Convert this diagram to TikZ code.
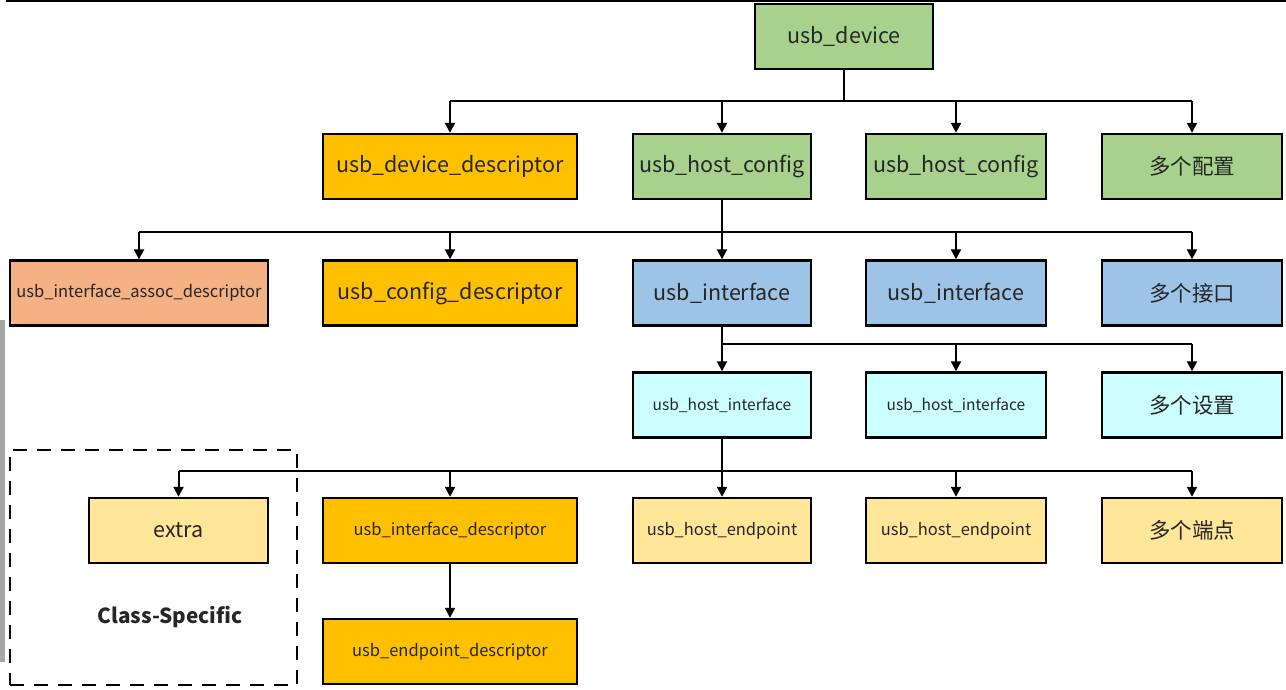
\documentclass[tikz,border=0pt]{standalone}
\usepackage{fontspec}
\setmainfont{Noto Sans CJK SC}
\usetikzlibrary{arrows.meta, positioning}
\definecolor{cfggreen}{HTML}{A9D18E}
\definecolor{descgold}{HTML}{FFC000}
\definecolor{assocsalmon}{HTML}{F4B183}
\definecolor{ifblue}{HTML}{9DC3E6}
\definecolor{altcyan}{HTML}{CCFFFF}
\definecolor{epyellow}{HTML}{FFE699}

\begin{document}
\begin{tikzpicture}[
  x=1pt, y=-1pt,
  font=\fontsize{21.5}{25}\selectfont,
  blk/.style={draw, line width=2.4pt, minimum height=65pt, inner sep=2pt, text=black!85},
  sm/.style={font=\fontsize{16.5}{19}\selectfont},
  xs/.style={font=\fontsize{15.5}{18}\selectfont},
  ln/.style={line width=2pt},
  ar/.style={ln, -{Triangle[length=10pt, width=10pt]}},
  dashbox/.style={draw, line width=2.4pt, dash pattern=on 14pt off 10pt}
]
\useasboundingbox (0,0) rectangle (1286,689);
\fill[black!35] (0,320) rectangle (5,662);
\draw[line width=1.5pt] (6,0.8) -- (1286,0.8);
% class-specific frame
\node[dashbox, minimum width=287pt, minimum height=235pt] (clsbox) at (153.5,567.5) {};
\node[font=\fontsize{20.7}{24}\selectfont\bfseries, text=black!85] (clsname) at (170,617) {Class-Specific};
% device and configurations
\node[blk, fill=cfggreen, minimum width=178pt] (dev) at (844,36.5) {usb\_device};
\node[blk, fill=descgold, minimum width=254pt] (devdesc) at (450,166.5) {usb\_device\_descriptor};
\node[blk, fill=cfggreen, minimum width=178pt] (cfga) at (722,166.5) {usb\_host\_config};
\node[blk, fill=cfggreen, minimum width=180pt] (cfgb) at (956,166.5) {usb\_host\_config};
\node[blk, fill=cfggreen, minimum width=180pt] (cfgn) at (1192,166.5) {多个配置};
% interfaces
\node[blk, sm, fill=assocsalmon, minimum width=258pt] (assoc) at (139,293) {usb\_interface\_assoc\_descriptor};
\node[blk, fill=descgold, minimum width=254pt] (cfgdesc) at (450,293) {usb\_config\_descriptor};
\node[blk, fill=ifblue, minimum width=178pt] (ifa) at (722,293) {usb\_interface};
\node[blk, fill=ifblue, minimum width=180pt] (ifb) at (956,293) {usb\_interface};
\node[blk, fill=ifblue, minimum width=180pt] (ifn) at (1192,293) {多个接口};
% alternate settings
\node[blk, xs, fill=altcyan, minimum width=178pt] (hia) at (722,405) {usb\_host\_interface};
\node[blk, xs, fill=altcyan, minimum width=180pt] (hib) at (956,405) {usb\_host\_interface};
\node[blk, fill=altcyan, minimum width=180pt] (hin) at (1192,405) {多个设置};
% endpoints
\node[blk, fill=epyellow, minimum width=179pt] (extra) at (178.5,530.5) {extra};
\node[blk, sm, fill=descgold, minimum width=254pt] (ifdesc) at (450,530.5) {usb\_interface\_descriptor};
\node[blk, sm, fill=epyellow, minimum width=178pt] (epa) at (722,530.5) {usb\_host\_endpoint};
\node[blk, sm, fill=epyellow, minimum width=180pt] (epb) at (956,530.5) {usb\_host\_endpoint};
\node[blk, fill=epyellow, minimum width=180pt] (epn) at (1192,530.5) {多个端点};
\node[blk, sm, fill=descgold, minimum width=254pt] (epdesc) at (450,651.5) {usb\_endpoint\_descriptor};
% buses
\coordinate (bus1) at (0,101);
\coordinate (bus2) at (0,232);
\coordinate (bus3) at (0,344);
\coordinate (bus4) at (0,471);
\draw[ln] (dev.south) -- (dev |- bus1);
\draw[ln] (devdesc |- bus1) -- (cfgn |- bus1);
\foreach \n in {devdesc, cfga, cfgb, cfgn}{\draw[ar] (\n |- bus1) -- (\n.north);}
\draw[ln] (cfga.south) -- (cfga |- bus2);
\draw[ln] (assoc |- bus2) -- (ifn |- bus2);
\foreach \n in {assoc, cfgdesc, ifa, ifb, ifn}{\draw[ar] (\n |- bus2) -- (\n.north);}
\draw[ln] (ifa.south) -- (ifa |- bus3);
\draw[ln] (hia |- bus3) -- (hin |- bus3);
\foreach \n in {hia, hib, hin}{\draw[ar] (\n |- bus3) -- (\n.north);}
\draw[ln] (hia.south) -- (hia |- bus4);
\draw[ln] (extra |- bus4) -- (epn |- bus4);
\foreach \n in {extra, ifdesc, epa, epb, epn}{\draw[ar] (\n |- bus4) -- (\n.north);}
\draw[ar] (ifdesc) -- (epdesc);
\end{tikzpicture}
\end{document}
